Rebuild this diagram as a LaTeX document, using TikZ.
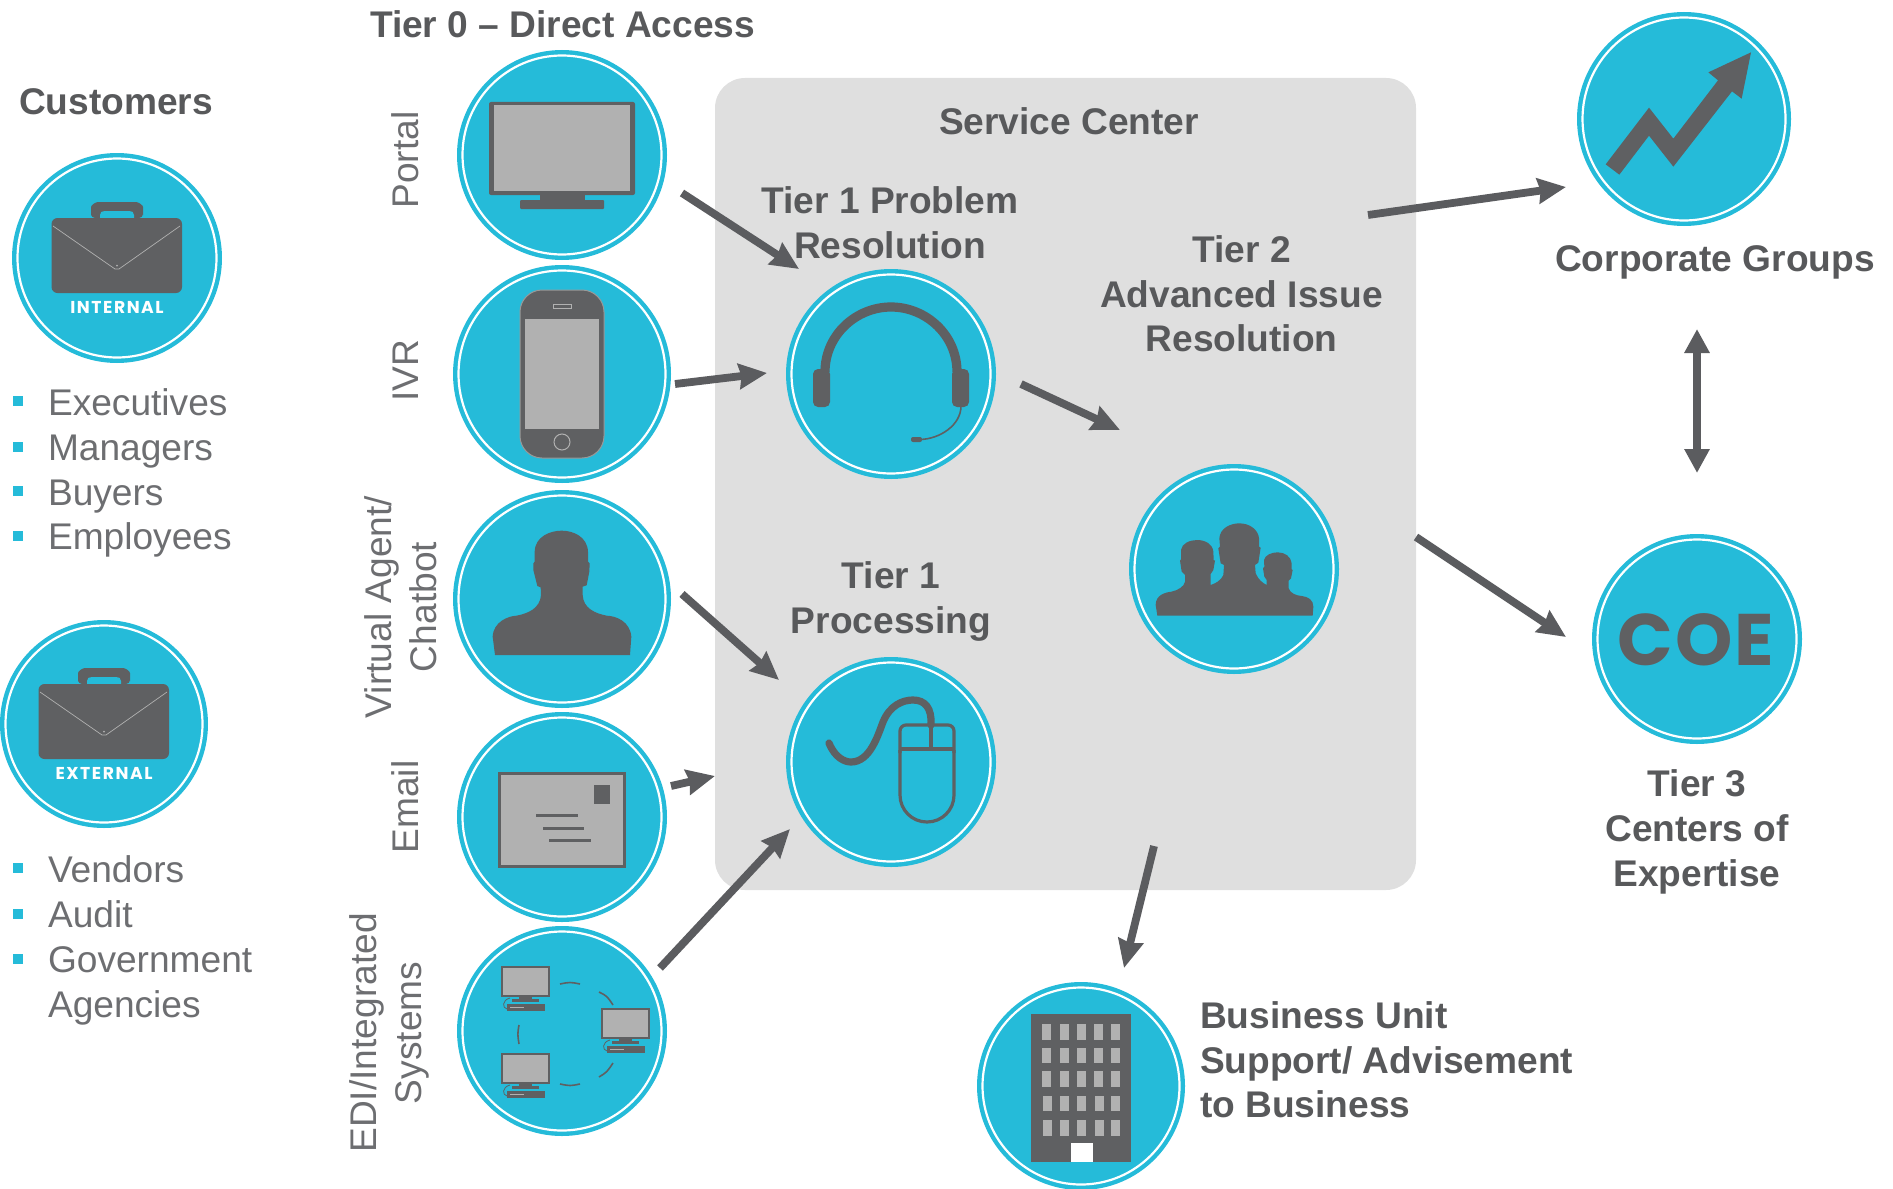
\documentclass[tikz,border=0pt]{standalone}
\usepackage{fontspec}
\setmainfont{Liberation Sans}
\newfontfamily\logofont[LetterSpace=9]{Poppins}
\newfontfamily\coefont[LetterSpace=3]{Poppins}
\usetikzlibrary{arrows.meta,calc}
\definecolor{teal}{HTML}{25BBD9}
\definecolor{dk}{HTML}{5F6062}
\definecolor{scr}{HTML}{B1B1B1}
\definecolor{panelc}{HTML}{DFDFDF}
\definecolor{arr}{HTML}{5B5C5F}
\definecolor{head}{HTML}{58595B}
\definecolor{lst}{HTML}{6D6E71}
\tikzset{
  badge/.style={circle,fill=teal,draw=none,inner sep=0pt,outer sep=0pt},
  ring/.style={draw=white,line width=1.1pt},
  flow/.style={draw=arr,line width=3.9pt,-{Stealth[length=14pt,width=12.5pt,inset=1.2pt]}},
  flowboth/.style={draw=arr,line width=4pt,{Triangle[length=12pt,width=12pt]}-{Triangle[length=12pt,width=12pt]}},
  hd/.style={text=head,inner sep=0pt,outer sep=0pt,font=\fontsize{18.56}{22.35}\selectfont\bfseries},
  item/.style={text=lst,inner sep=0pt,outer sep=0pt,anchor=base west,font=\fontsize{18.56}{22.35}\selectfont},
  sidelab/.style={text=lst,inner sep=0pt,outer sep=0pt,rotate=90,align=center,font=\fontsize{18.56}{22.35}\selectfont},
  bul/.style={fill=teal,draw=none,inner sep=0pt,minimum size=4.6pt,rectangle},
  dkf/.style={fill=dk,draw=none},
  scrf/.style={fill=scr,draw=none},
  scrl/.style={draw=scr,line width=.5pt}
}
\newcommand{\badgeat}[4]{%
  \node[badge,minimum size=#4 pt] (#1) at (#2,#3) {};
  \draw[ring] (#1) circle[radius=#4-5.5];}
\newcommand{\bcase}[3]{%
  \begin{scope}[shift={(#1,#2)}]
    \fill[dk,rounded corners=2pt,even odd rule] (-26,-40) -- (-26,-47) .. controls (-26,-53) and (-21,-56) .. (-15,-56) -- (15,-56) .. controls (21,-56) and (26,-53) .. (26,-47) -- (26,-40) -- (-26,-40) -- cycle;
    \fill[teal] (-17,-40) -- (-17,-43) .. controls (-17,-46) and (-15,-47) .. (-12,-47) -- (12,-47) .. controls (15,-47) and (17,-46) .. (17,-43) -- (17,-40) -- cycle;
    \fill[dk,rounded corners=3pt] (-65.5,-40) rectangle (65,35);
    \draw[scr,line width=.35pt] (-64,-32) -- (-2,11) -- (2,11) -- (63,-32);
    \fill[scr] (0,7.5) circle[radius=1];
    \node[inner sep=0pt,text=white,font=\logofont\bfseries\fontsize{8.6}{10}\selectfont] at (0,49) {#3};
  \end{scope}}
\newcommand{\pc}[2]{%
  \begin{scope}[shift={(#1,#2)}]
    \fill[dk] (0,0) rectangle (49,31);
    \fill[scr] (2,2) rectangle (47,29);
    \fill[dk] (18,31) rectangle (31,33);
    \fill[dk] (11,33) rectangle (38,36);
    \fill[dk] (6,37.5) rectangle (44,45);
    \fill[scr] (9,40.5) rectangle (23,42);
    \draw[dk,line width=.4pt] (9,32) .. controls (1,34) and (1,42) .. (6,43);
  \end{scope}}
\begin{document}
\begin{tikzpicture}[x=.5pt,y=-.5pt]
\useasboundingbox (0,0) rectangle (1893,1188);
% service centre panel
\node[fill=panelc,draw=none,rounded corners=15pt,minimum width=350.5pt,minimum height=406pt,inner sep=0pt] (panel) at (1065.5,484) {};
% badges
\badgeat{internal}{117}{258}{105}
\badgeat{external}{104}{724}{104}
\badgeat{portal}{562}{155}{105}
\badgeat{ivr}{562}{374}{109}
\badgeat{agent}{562}{599}{109}
\badgeat{email}{562}{817}{105}
\badgeat{edi}{562}{1031}{105}
\badgeat{headset}{891}{374}{105}
\badgeat{mouse}{891}{762}{105}
\badgeat{team}{1234}{569}{105}
\badgeat{building}{1081}{1086}{104}
\badgeat{chart}{1684}{119}{107}
\badgeat{coe}{1697}{639}{105}
% briefcases
\bcase{117}{258}{INTERNAL}
\bcase{104}{724}{EXTERNAL}
% monitor
\fill[dk,rounded corners=1pt] (489,102) rectangle (635,195);
\fill[scr] (494,105) rectangle (630,191);
\fill[dk] (540,195) rectangle (585,200);
\fill[dk,rounded corners=.5pt] (520,200) rectangle (604,209);
% phone
\fill[dk,draw=scr!70!dk,line width=.5pt,rounded corners=11pt] (520,290) rectangle (604,458);
\fill[scr] (525,319) rectangle (599,429);
\draw[scrl] (553,304) rectangle (571,308);
\draw[scrl] (562,442) circle[radius=8];
% agent silhouette
\begin{scope}[shift={(440,480)},scale=1/3]
\fill[dk] (165,525) -- (158,470) .. controls (160,425) and (205,408) .. (230,407) .. controls (265,400) and (300,385) .. (303,345) -- (302,322) -- (292,318) -- (280,270) -- (280,250) -- (284,245) -- (284,215) .. controls (285,170) and (330,152) .. (365,152) .. controls (400,152) and (442,170) .. (444,215) -- (444,245) -- (449,250) -- (448,275) -- (440,316) -- (428,320) -- (428,345) .. controls (430,385) and (465,400) .. (500,407) .. controls (530,408) and (570,425) .. (574,470) -- (570,525) -- cycle;
\end{scope}
% email
\begin{scope}[shift={(440,480)},scale=1/3]
\fill[dk] (175,877) rectangle (558,1164);
\fill[scr] (184,886) rectangle (549,1155);
\fill[dk] (461,914) rectangle (511,973);
\fill[dk] (288,1002) rectangle (414,1011);
\fill[dk] (308,1040) rectangle (433,1049);
\fill[dk] (327,1078) rectangle (452,1087);
\end{scope}
% EDI computers
\pc{501}{966}
\pc{601}{1008}
\pc{501}{1053}
\draw[dk,line width=.8pt] (560,984) .. controls (570,982) .. (580,984);
\draw[dk,line width=.8pt] (599,992) .. controls (607,996) .. (613,1005);
\draw[dk,line width=.8pt] (613,1063) .. controls (607,1072) .. (599,1077);
\draw[dk,line width=.8pt] (580,1084) .. controls (570,1086) .. (560,1084);
\draw[dk,line width=.8pt] (519,1025) .. controls (517.5,1034) .. (519,1044);
% headset
\draw[dk,line width=4.6pt] (825,372) .. controls (825,335) and (856,307) .. (891,307) .. controls (926,307) and (957,335) .. (957,372);
\fill[dk,rounded corners=2.5pt] (813,369) rectangle (830,407);
\fill[dk,rounded corners=2.5pt] (952,369) rectangle (969,407);
\draw[dk,line width=.8pt] (961,406) .. controls (961,425) and (940,439) .. (920,439.5);
\fill[dk,rounded corners=1pt] (911,437) rectangle (922,442);
% mouse
\draw[dk,line width=1.6pt,rounded corners=3pt] (900,753) -- (900,725) -- (954,725) -- (954,753);
\draw[dk,line width=1.6pt] (900,750) -- (900,795) .. controls (900,810) and (912,822) .. (927,822) .. controls (942,822) and (954,810) .. (954,795) -- (954,750);
\draw[dk,line width=1.6pt] (900,749) -- (954,749);
\draw[dk,line width=1.6pt] (931,722) -- (931,749);
\draw[dk,line width=3.6pt,line cap=round] (829,743) .. controls (835,758) and (845,762) .. (851,762) .. controls (870,762) and (878,735) .. (883,722) .. controls (890,705) and (903,700) .. (913,700) .. controls (925,700) and (932,708) .. (931,725);
% team silhouette
\begin{scope}[shift={(1110,450)},scale=1/3]
\fill[dk] (142,497) -- (137,465) .. controls (137,435) and (165,427) .. (185,425) .. controls (205,420) and (222,410) .. (225,395) -- (225,375) -- (215,365) -- (210,332) -- (213,328) -- (213,300) .. controls (215,280) and (240,270) .. (262,270) .. controls (285,270) and (308,282) .. (310,305) -- (311,330) -- (315,332) -- (310,360) -- (302,372) -- (302,405) .. controls (315,400) and (330,395) .. (340,375) -- (342,345) -- (332,340) -- (325,295) -- (330,290) -- (328,265) .. controls (330,235) and (360,220) .. (388,220) .. controls (420,220) and (445,240) .. (447,265) -- (447,290) -- (452,293) -- (445,338) -- (435,345) -- (437,370) .. controls (445,390) and (460,400) .. (470,405) -- (470,390) -- (463,380) -- (459,355) -- (463,350) -- (462,330) .. controls (465,315) and (485,307) .. (503,307) .. controls (525,307) and (543,320) .. (545,340) -- (545,358) -- (548,360) -- (543,385) -- (536,392) -- (536,415) .. controls (540,430) and (560,437) .. (575,438) .. controls (595,440) and (610,450) .. (610,470) -- (608,497) -- cycle;
\end{scope}
% building
\begin{scope}[shift={(960,970)},scale=1/3]
\fill[dk] (213,132) rectangle (513,577);
\foreach \cx in {247,299,350,402,452}{
  \foreach \ry in {163,233,304}{\fill[scr] (\cx,\ry) rectangle ++(27,47);}
  \foreach \ry in {377,450}{\fill[scr] (\cx+2,\ry) rectangle ++(27,47);}
}
\fill[white] (332,519) rectangle (399,577);
\end{scope}
% chart arrow
\begin{scope}[shift={(1560,0)},scale=1/3]
\fill[dk] (137,493) -- (267,323) -- (340,416) -- (474,241) -- (445,217) -- (573,157) -- (545,296) -- (516,274) -- (340,500) -- (267,407) -- (178,524) -- cycle;
\end{scope}
% COE
\node[inner sep=0pt,text=dk,font=\coefont\bfseries\fontsize{36.5}{40}\selectfont] (coetext) at (1696,640) {COE};
% connectors
\draw[flow] ($(portal)+(120,38)$) -- ($(headset)+(-92,-105)$);
\draw[flow] ($(ivr)+(113,10)$) -- ($(headset)+(-124,-1)$);
\draw[flow] ($(agent)+(120,-5)$) -- ($(mouse)+(-112,-82)$);
\draw[flow] ($(email)+(109,-31)$) -- ($(panel)+(-350.5,292)$);
\draw[flow] ($(edi)+(98,-63)$) -- ($(mouse)+(-101,67)$);
\draw[flow] ($(headset)+(130,10)$) -- ($(team)+(-114,-139)$);
\draw[flow] ($(panel)+(302.5,-269)$) -- ($(chart)+(-118,68)$);
\draw[flow] ($(panel)+(350.5,53)$) -- ($(coe)+(-131,-2)$);
\draw[flow] ($(panel)+(88.5,362)$) -- ($(building)+(43,-118)$);
\draw[flowboth] ($(chart)+(13,210)$) -- ($(coe)+(0,-166)$);
% headings
\node[hd,anchor=base west] (tzero) at (370,38) {Tier 0 – Direct Access};
\node[hd,anchor=base west] (cust) at (19,114) {Customers};
\node[hd,anchor=base] (svc) at (1069,134.5) {Service Center};
\node[hd,align=center] (tonea) at (890,222.5) {Tier 1 Problem\\Resolution};
\node[hd,align=center] (ttwo) at (1241.5,294) {Tier 2\\Advanced Issue\\Resolution};
\node[hd,align=center] (toneb) at (891,601.5) {Tier 1\\Processing};
\node[hd,anchor=base] (corp) at (1715,271) {Corporate Groups};
\node[hd,align=center] (tthree) at (1697,832) {Tier 3\\Centers of\\Expertise};
\node[hd,align=left,anchor=west] (biz) at (1200,1060) {Business Unit\\Support/ Advisement\\to Business};
% side labels
\node[sidelab,anchor=base] (lportal) at (418,160) {Portal};
\node[sidelab,anchor=base] (livr) at (418,371) {IVR};
\node[sidelab] (lagent) at (401,607) {Virtual Agent/\\Chatbot};
\node[sidelab,anchor=base] (lemail) at (418,807) {Email};
\node[sidelab] (ledi) at (389.5,1033) {EDI/Integrated\\Systems};
% lists
\node[bul] (b1) at (18,401) {}; \node[item] (i1) at (48,415) {Executives};
\node[bul] (b2) at (18,447) {}; \node[item] (i2) at (48,460) {Managers};
\node[bul] (b3) at (18,491) {}; \node[item] (i3) at (48,505) {Buyers};
\node[bul] (b4) at (18,536) {}; \node[item] (i4) at (48,549) {Employees};
\node[bul] (b5) at (18,868) {}; \node[item] (i5) at (48,882) {Vendors};
\node[bul] (b6) at (18,914) {}; \node[item] (i6) at (48,927) {Audit};
\node[bul] (b7) at (18,959) {}; \node[item] (i7) at (48,972) {Government};
\node[item] (i8) at (48,1017) {Agencies};
\end{tikzpicture}
\end{document}
